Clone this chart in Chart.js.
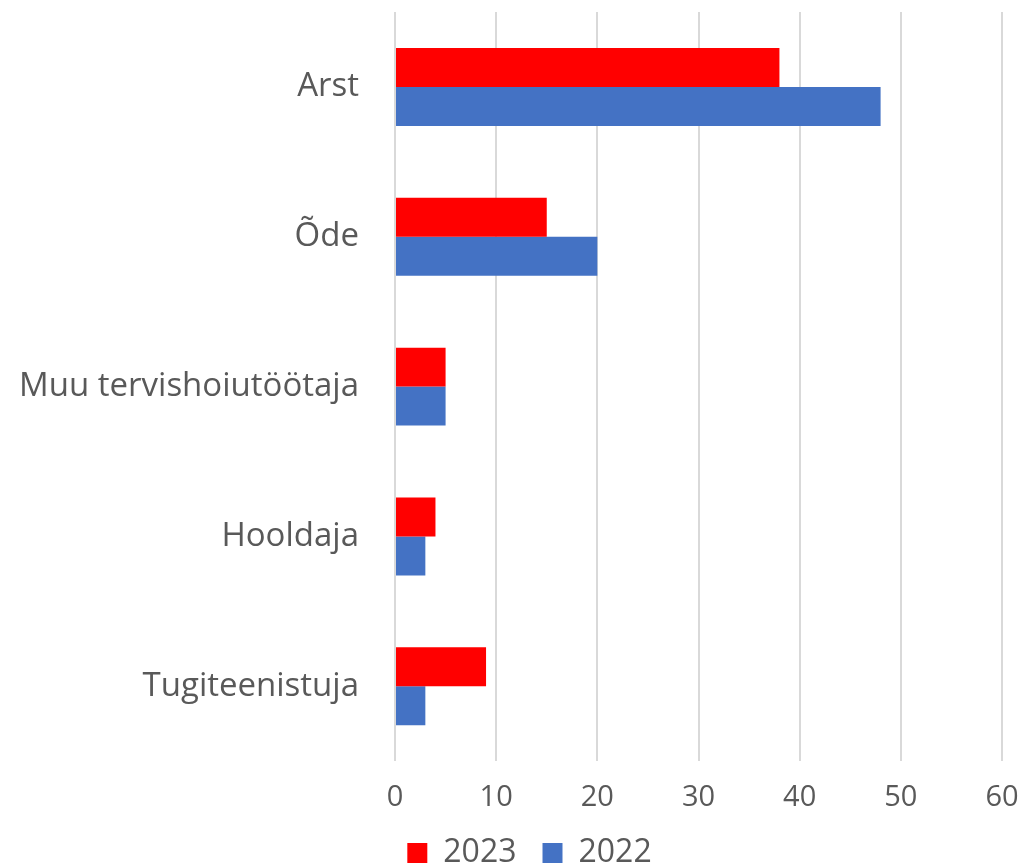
<!DOCTYPE html>
<html>
<head>
<meta charset="utf-8">
<script src="https://cdn.jsdelivr.net/npm/chart.js@4.4.0/dist/chart.umd.min.js"></script>
<style>
  html, body { margin: 0; padding: 0; background: #fff; }
  #wrap { width: 1022px; height: 866px; }
</style>
</head>
<body>
<div id="wrap"><canvas id="myChart" width="1022" height="866"></canvas></div>
<script>
var categories = ['Arst', 'Õde', 'Muu tervishoiutöötaja', 'Hooldaja', 'Tugiteenistuja'];
var values2023 = [38, 15, 5, 4, 9];
var values2022 = [48, 20, 5, 3, 3];
var seriesLabels = ['2023', '2022'];
var xTicks = [0, 10, 20, 30, 40, 50, 60];

var textColor = '#595959';
var fontFamily = '"Open Sans", "Liberation Sans", sans-serif';

// legend in the original sits a bit right of the canvas centre
var legendShift = {
    id: 'legendShift',
    afterLayout: function(chart) {
        chart.legend.left += 57;
    }
};

var ctx = document.getElementById('myChart').getContext('2d');
var chart = new Chart(ctx, {
    type: 'bar',
    data: {
        labels: categories,
        datasets: [{
            label: seriesLabels[0],
            backgroundColor: '#FF0000',
            data: values2023,
            categoryPercentage: 0.52,
            barPercentage: 1.0
        }, {
            label: seriesLabels[1],
            backgroundColor: '#4472C4',
            data: values2022,
            categoryPercentage: 0.52,
            barPercentage: 1.0
        }]
    },
    plugins: [legendShift],
    options: {
        indexAxis: 'y',
        responsive: false,
        animation: false,
        layout: { padding: { top: 12, right: 20, left: 0, bottom: -13 } },
        plugins: {
            tooltip: { enabled: false },
            legend: {
                position: 'bottom',
                labels: {
                    color: textColor,
                    boxWidth: 20,
                    boxHeight: 20,
                    padding: 26,
                    font: { family: fontFamily, size: 32 }
                }
            }
        },
        scales: {
            x: {
                min: 0,
                max: 60,
                afterBuildTicks: function(scale) {
                    scale.ticks = xTicks.map(function(v) { return { value: v }; });
                },
                afterFit: function(scale) {
                    // drop the label overhang padding, the layout padding handles it
                    scale.paddingLeft = 0;
                    scale.paddingRight = 0;
                    scale.height = scale.height - 23;
                },
                grid: { color: '#D9D9D9', lineWidth: 2, drawTicks: false },
                border: { display: false },
                ticks: {
                    color: textColor,
                    padding: 19,
                    font: { family: fontFamily, size: 29 }
                }
            },
            y: {
                grid: { display: false },
                border: { display: false },
                afterFit: function(scale) {
                    scale.width = 395;
                    scale.paddingTop = 0;
                    scale.paddingBottom = 0;
                },
                ticks: {
                    color: textColor,
                    padding: 28,
                    font: { family: fontFamily, size: 33 }
                }
            }
        }
    }
});
</script>
</body>
</html>
